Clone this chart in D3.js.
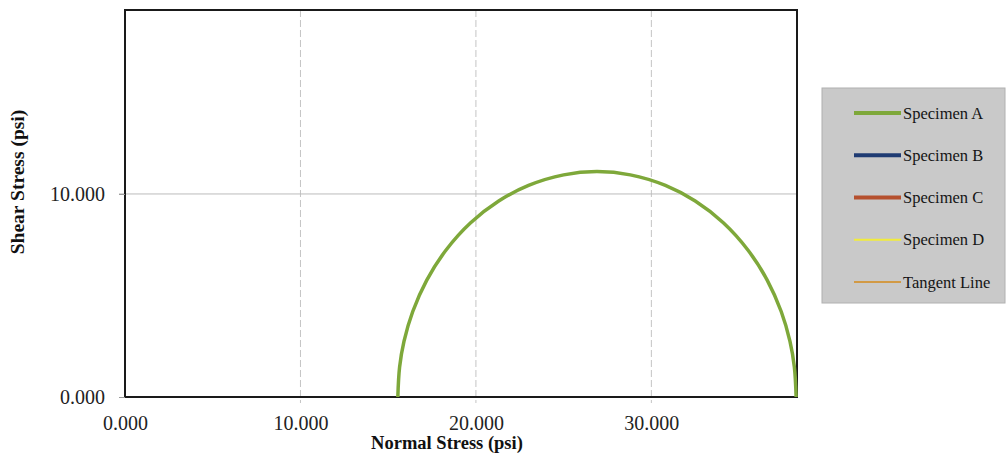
<!DOCTYPE html>
<html><head><meta charset="utf-8">
<script src="https://cdn.jsdelivr.net/npm/d3@7"></script>
<style>body{margin:0;background:#fff;}svg{display:block;}</style>
</head><body>
<svg id="c" width="1007" height="457"></svg>
<script>
// Data (Mohr circle, Specimen A)
const normalStress = [15.55, 15.65, 15.9, 16.4, 17.2, 18.3, 19.7, 21.3, 23.0, 25.0, 26.9, 28.8, 30.8, 32.5, 34.1, 35.5, 36.6, 37.4, 37.9, 38.15, 38.25];
const shearStress  = [0.0, 1.47, 2.74, 4.21, 5.76, 7.24, 8.58, 9.65, 10.42, 10.94, 11.10, 10.94, 10.42, 9.65, 8.58, 7.24, 5.76, 4.21, 2.74, 1.47, 0.0];
const xTicks = [0, 10, 20, 30];
const yTicks = [0, 10];
const seriesNames = ["Specimen A", "Specimen B", "Specimen C", "Specimen D", "Tangent Line"];
const seriesColors = ["#7ea83a", "#1f3b73", "#b5502e", "#f2ec3a", "#d29a45"];
const seriesWidths = [4, 4, 4, 2, 2];

const svg = d3.select("#c");
const L = 125, R = 797, T = 10, B = 397;
const x = d3.scaleLinear().domain([0, 38.3]).range([L, R]);
const y = d3.scaleLinear().domain([0, 19.06]).range([B, T]);
const serif = "Liberation Serif, Times New Roman, serif";

// gridlines
svg.append("g").selectAll("line").data(xTicks.filter(d => d > 0)).join("line")
  .attr("x1", d => x(d)).attr("x2", d => x(d)).attr("y1", T).attr("y2", B + 6)
  .attr("stroke", "#c4c4c4").attr("stroke-width", 1).attr("stroke-dasharray", "7,3");
svg.append("g").selectAll("line").data(yTicks.filter(d => d > 0)).join("line")
  .attr("x1", L - 6).attr("x2", R).attr("y1", d => y(d)).attr("y2", d => y(d))
  .attr("stroke", "#bcbcbc").attr("stroke-width", 1);

// plot frame
svg.append("rect").attr("x", L).attr("y", T).attr("width", R - L).attr("height", B - T)
  .attr("fill", "none").attr("stroke", "#1a1a1a").attr("stroke-width", 2);

// axes (ticks + labels) via d3 axes
const xAxis = d3.axisBottom(x).tickValues(xTicks).tickFormat(d3.format(".3f")).tickSize(0).tickPadding(19);
const gx = svg.append("g").attr("transform", `translate(0,${B})`).call(xAxis);
gx.select(".domain").remove();
gx.selectAll("text").attr("font-family", serif).attr("font-size", 20).attr("fill", "#222");

const yAxis = d3.axisLeft(y).tickValues(yTicks).tickFormat(d3.format(".3f")).tickSize(6).tickPadding(14);
const gy = svg.append("g").attr("transform", `translate(${L},0)`).call(yAxis);
gy.select(".domain").remove();
gy.selectAll("line").attr("stroke", "#999");
gy.selectAll("text").attr("font-family", serif).attr("font-size", 20).attr("fill", "#222");

// axis titles
svg.append("text").attr("x", 447).attr("y", 449).attr("text-anchor", "middle")
  .attr("font-family", serif).attr("font-weight", "bold")
  .attr("font-size", 18.5).attr("fill", "#111").text("Normal Stress (psi)");
svg.append("text").attr("transform", "translate(24,182) rotate(-90)").attr("text-anchor", "middle")
  .attr("font-family", serif).attr("font-weight", "bold")
  .attr("font-size", 19.5).attr("fill", "#111").text("Shear Stress (psi)");

// Mohr circle
const pts = normalStress.map((s, i) => [s, shearStress[i]]);
const line = d3.line().x(d => x(d[0])).y(d => y(d[1])).curve(d3.curveCatmullRom.alpha(0.5));
svg.append("path").datum(pts).attr("d", line).attr("fill", "none")
  .attr("stroke", seriesColors[0]).attr("stroke-width", 3.5);

// legend
const lg = svg.append("g");
lg.append("rect").attr("x", 822).attr("y", 88).attr("width", 183).attr("height", 215)
  .attr("fill", "#c9c9c9").attr("stroke", "#b0b0b0").attr("stroke-width", 1);
const ly = d3.scalePoint().domain(seriesNames).range([113, 282]);
const items = lg.selectAll("g.item").data(seriesNames).join("g").attr("class", "item");
items.append("line").attr("x1", 854).attr("x2", 901)
  .attr("y1", d => ly(d)).attr("y2", d => ly(d))
  .attr("stroke", (d, i) => seriesColors[i]).attr("stroke-width", (d, i) => seriesWidths[i]);
items.append("text").attr("x", 903).attr("y", d => ly(d) + 5.5)
  .attr("font-family", serif).attr("font-size", 16.5)
  .attr("fill", "#151515").text(d => d);
</script>
</body></html>
